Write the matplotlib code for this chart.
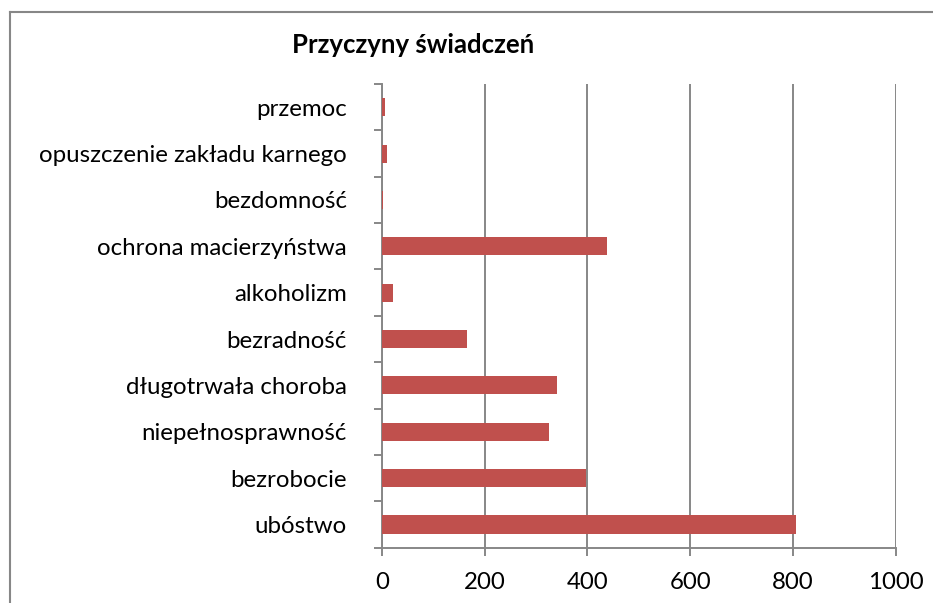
import numpy as np
import matplotlib.pyplot as plt
from matplotlib.lines import Line2D

plt.rcParams['font.family'] = ['Lato', 'DejaVu Sans']

categories = ['ubóstwo', 'bezrobocie', 'niepełnosprawność', 'długotrwała choroba',
              'bezradność', 'alkoholizm', 'ochrona macierzyństwa', 'bezdomność',
              'opuszczenie zakładu karnego', 'przemoc']
values = [805, 397, 326, 340, 166, 22, 439, 2, 10, 7]
x_ticks = [0, 200, 400, 600, 800, 1000]

grey = '#878787'
bar_color = '#C0504D'

fig = plt.figure(figsize=(9.33, 6.03), dpi=100)
ax = fig.add_axes([381.7 / 933, 1 - 547.7 / 603, (896 - 381.7) / 933, (547.7 - 84) / 603])

y = np.arange(len(categories))
ax.barh(y, values, height=0.39, color=bar_color, zorder=3)

ax.set_xlim(0, 1000)
ax.set_ylim(-0.5, len(categories) - 0.5)
ax.set_xticks(x_ticks)
ax.set_xticklabels([str(t) for t in x_ticks])
ax.set_yticks(y)
ax.set_yticklabels(categories)
ax.set_yticks(np.arange(-0.5, len(categories), 1), minor=True)

ax.grid(axis='x', color=grey, linewidth=1.4, zorder=0)
ax.tick_params(axis='y', which='major', length=0, pad=25, labelsize=17.3)
ax.tick_params(axis='y', which='minor', length=6, width=1.4, color=grey)
ax.tick_params(axis='x', which='major', length=5.5, width=1.4, color=grey, pad=12, labelsize=17.3)

for side in ['top', 'right']:
    ax.spines[side].set_visible(False)
for side in ['left', 'bottom']:
    ax.spines[side].set_color(grey)
    ax.spines[side].set_linewidth(1.4)

fig.text(413 / 933, 1 - 45 / 603, 'Przyczyny świadczeń', fontsize=18.5, fontweight='bold',
         ha='center', va='center')

# outer chart frame (cut off on right and bottom)
fig.add_artist(Line2D([9.5 / 933, 9.5 / 933], [0, 1 - 11.5 / 603],
                      color=grey, linewidth=1.5, transform=fig.transFigure))
fig.add_artist(Line2D([9.5 / 933, 1], [1 - 11.5 / 603, 1 - 11.5 / 603],
                      color=grey, linewidth=1.5, transform=fig.transFigure))

fig.savefig('out.png', dpi=100)
